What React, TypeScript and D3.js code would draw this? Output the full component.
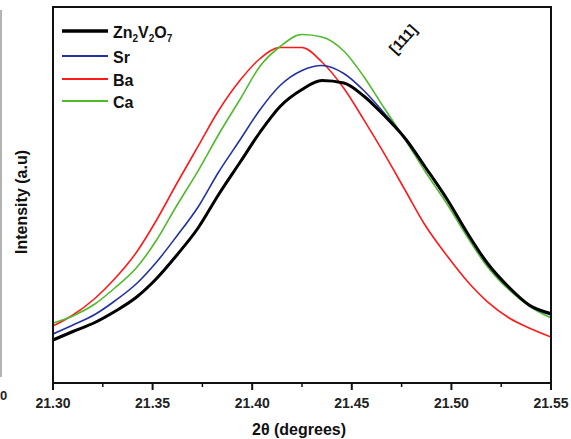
import React from "react";
import * as d3 from "d3";

const twoTheta = [21.3, 21.31, 21.321, 21.331, 21.342, 21.352, 21.362, 21.373, 21.383, 21.394, 21.404, 21.414, 21.425, 21.435, 21.446, 21.456, 21.466, 21.477, 21.487, 21.498, 21.508, 21.518, 21.529, 21.539, 21.55];

const zn2v2o7 = [430, 515, 605, 715, 860, 1045, 1275, 1555, 1880, 2210, 2510, 2765, 2935, 3025, 3000, 2870, 2680, 2440, 2155, 1832, 1500, 1200, 955, 780, 695];
const sr = [490, 580, 685, 820, 995, 1210, 1465, 1765, 2105, 2435, 2735, 2975, 3125, 3175, 3095, 2925, 2705, 2445, 2155, 1828, 1495, 1195, 950, 775, 680];
const ba = [570, 680, 845, 1042, 1310, 1630, 1990, 2373, 2720, 3030, 3245, 3355, 3355, 3210, 2947, 2634, 2303, 1920, 1572, 1267, 1017, 814, 650, 550, 460];
const ca = [600, 670, 790, 950, 1155, 1430, 1770, 2127, 2480, 2840, 3170, 3365, 3485, 3460, 3320, 3065, 2757, 2428, 2110, 1785, 1460, 1165, 930, 770, 650];

const majorTicks = [21.3, 21.35, 21.4, 21.45, 21.5, 21.55];
const minorTicks = [21.325, 21.375, 21.425, 21.475, 21.525];

const seriesNames = ["Zn2V2O7", "Sr", "Ba", "Ca"];
const seriesColors = ["#000000", "#2233a0", "#ff1a1a", "#4fbb2a"];
const seriesWidths = [3, 1.6, 1.6, 1.6];

const W = 571, H = 439;
const L = 53, R = 551, T = 7, B = 383;

export default function App() {
  const x = d3.scaleLinear().domain([21.3, 21.55]).range([L, R]);
  const y = d3.scaleLinear().domain([0, 3760]).range([B, T]);
  const data = [zn2v2o7, sr, ba, ca];
  const line = d3
    .line<number>()
    .x((_, i) => x(twoTheta[i]))
    .y((v) => y(v))
    .curve(d3.curveMonotoneX);
  const font = "'Liberation Sans', Arial, sans-serif";
  const legendY = [31, 56, 79, 101];
  const order = [2, 3, 1, 0];
  return (
    <div style={{ position: "absolute", left: 0, top: 0 }}>
      <svg width={W} height={H} style={{ display: "block", background: "#fff" }}>
        <rect x={0} y={0} width={W} height={H} fill="#fff" />
        <line x1={1} x2={1} y1={10} y2={377} stroke="#9a9a9a" strokeWidth={1.5} />
        <text x={0} y={400} fontFamily={font} fontWeight="bold" fontSize={13} fill="#222">0</text>
        <defs>
          <clipPath id="plot">
            <rect x={L} y={T} width={R - L} height={B - T} />
          </clipPath>
        </defs>
        <g clipPath="url(#plot)">
          {order.map((i) => (
            <path key={i} d={line(data[i]) || ""} fill="none" stroke={seriesColors[i]} strokeWidth={seriesWidths[i]} strokeLinejoin="round" />
          ))}
        </g>
        <rect x={L} y={T} width={R - L} height={B - T} fill="none" stroke="#111" strokeWidth={2} />
        {majorTicks.map((t) => (
          <g key={t}>
            <line x1={x(t)} x2={x(t)} y1={B} y2={B + 7} stroke="#111" strokeWidth={2} />
            <text x={x(t)} y={408} textAnchor="middle" fontFamily={font} fontWeight="bold" fontSize={14} fill="#222">
              {t.toFixed(2)}
            </text>
          </g>
        ))}
        {minorTicks.map((t) => (
          <line key={t} x1={x(t)} x2={x(t)} y1={B} y2={B + 4} stroke="#111" strokeWidth={1.5} />
        ))}
        <text x={299} y={435} textAnchor="middle" fontFamily={font} fontWeight="bold" fontSize={16} fill="#111">
          2θ (degrees)
        </text>
        <text transform="translate(27,202) rotate(-90)" textAnchor="middle" fontFamily={font} fontWeight="bold" fontSize={16} fill="#111">
          Intensity (a.u)
        </text>
        <text transform="translate(404,40) rotate(-48)" textAnchor="middle" dominantBaseline="middle" fontFamily={font} fontWeight="bold" fontSize={15} fill="#111">
          [111]
        </text>
        {seriesNames.map((n, i) => (
          <g key={n}>
            <line x1={62} x2={108} y1={legendY[i]} y2={legendY[i]} stroke={seriesColors[i]} strokeWidth={i === 0 ? 3.5 : 2} />
            <text x={113} y={legendY[i] + 6.5} fontFamily={font} fontWeight="bold" fontSize={16} fill="#111">
              {i === 0 ? (
                <>
                  Zn<tspan fontSize={10} dy={4}>2</tspan>
                  <tspan dy={-4}>V</tspan>
                  <tspan fontSize={10} dy={4}>2</tspan>
                  <tspan dy={-4}>O</tspan>
                  <tspan fontSize={10} dy={4}>7</tspan>
                </>
              ) : (
                n
              )}
            </text>
          </g>
        ))}
      </svg>
    </div>
  );
}
